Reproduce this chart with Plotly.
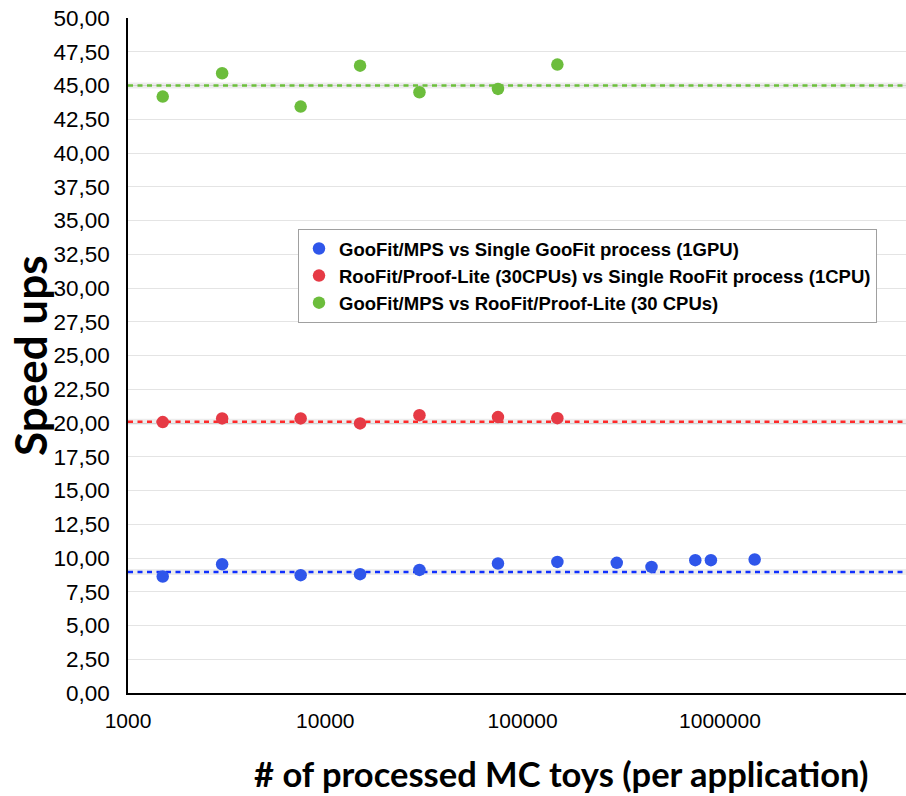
import plotly.graph_objects as go

# ---- data ----
gpu_x = [1500, 3000, 7500, 15000, 30000, 75000, 150000, 300000, 450000, 750000, 900000, 1500000]
gpu_y = [8.63, 9.54, 8.73, 8.80, 9.12, 9.59, 9.71, 9.64, 9.34, 9.84, 9.84, 9.89]

cpu_x = [1500, 3000, 7500, 15000, 30000, 75000, 150000]
cpu_y = [20.07, 20.34, 20.34, 19.97, 20.58, 20.44, 20.36]

gpu_vs_cpu_x = [1500, 3000, 7500, 15000, 30000, 75000, 150000]
gpu_vs_cpu_y = [44.18, 45.91, 43.44, 46.47, 44.50, 44.75, 46.55]

avg_levels = [8.97, 20.10, 45.00]   # dashed reference lines (blue, red, green)
line_x = [1000, 9000000]

series_names = [
    "GooFit/MPS vs Single GooFit process (1GPU)",
    "RooFit/Proof-Lite (30CPUs) vs Single RooFit process (1CPU)",
    "GooFit/MPS vs RooFit/Proof-Lite (30 CPUs)",
]

x_ticks = [1000, 10000, 100000, 1000000]
x_tick_labels = ["1000", "10000", "100000", "1000000"]
y_ticks = [i * 2.5 for i in range(21)]
y_tick_labels = ["0,00", "2,50", "5,00", "7,50", "10,00", "12,50", "15,00", "17,50",
                 "20,00", "22,50", "25,00", "27,50", "30,00", "32,50", "35,00", "37,50",
                 "40,00", "42,50", "45,00", "47,50", "50,00"]

marker_colors = ["#2f56ea", "#e63a45", "#6cbd3c"]
line_colors = ["#1030ff", "#ff2a2a", "#6cc03c"]

# ---- layout geometry ----
W, H = 906, 796
L, R, T, B = 128, 0, 18, 103
pw, ph = W - L - R, H - T - B

fig = go.Figure()

# reference dashed lines with faint shadow
for lvl, col in zip(avg_levels, line_colors):
    fig.add_trace(go.Scatter(x=line_x, y=[lvl, lvl], mode="lines",
                             line=dict(color="rgba(0,0,0,0.07)", width=6),
                             showlegend=False, hoverinfo="skip"))
    fig.add_trace(go.Scatter(x=line_x, y=[lvl, lvl], mode="lines",
                             line=dict(color=col, width=2.5, dash="5px,4.5px"),
                             showlegend=False, hoverinfo="skip"))

for xs, ys, name, col in zip([gpu_x, cpu_x, gpu_vs_cpu_x],
                             [gpu_y, cpu_y, gpu_vs_cpu_y],
                             series_names, marker_colors):
    fig.add_trace(go.Scatter(x=xs, y=ys, mode="markers", name=name,
                             marker=dict(color=col, size=12.5)))

def px_to_paper_x(px):
    return (px - L) / pw

def px_to_paper_y(py):
    return (H - B - py) / ph

fig.update_layout(
    width=W, height=H,
    margin=dict(l=L, r=R, t=T, b=B),
    paper_bgcolor="white", plot_bgcolor="white",
    showlegend=True,
    legend=dict(
        x=px_to_paper_x(298), y=px_to_paper_y(229),
        xanchor="left", yanchor="top",
        bgcolor="white", bordercolor="#a0a0a0", borderwidth=1,
        font=dict(family="Liberation Sans", size=18.5, color="black", weight="bold"),
        tracegroupgap=0,
    ),
    xaxis=dict(
        type="log", range=[3, 6.943],
        tickvals=x_ticks, ticktext=x_tick_labels,
        showgrid=False, zeroline=False,
        showline=True, linecolor="black", linewidth=1.5,
        ticks="outside", ticklen=8, tickcolor="rgba(0,0,0,0)",
        tickfont=dict(family="Liberation Sans", size=21, color="black"),
    ),
    yaxis=dict(
        range=[0, 50],
        tickvals=y_ticks, ticktext=y_tick_labels,
        showgrid=True, gridcolor="#e4e4e4", gridwidth=1,
        zeroline=False,
        showline=True, linecolor="black", linewidth=1.5,
        ticks="outside", ticklen=12, tickcolor="rgba(0,0,0,0)",
        tickfont=dict(family="Liberation Sans", size=22.5, color="black"),
    ),
    annotations=[
        dict(text="<b>Speed ups</b>", xref="paper", yref="paper",
             x=px_to_paper_x(30), y=px_to_paper_y(356),
             xanchor="center", yanchor="middle", textangle=-90, showarrow=False,
             font=dict(family="Lato", size=44, color="black")),
        dict(text="<b># of processed MC toys (per application)</b>", xref="paper", yref="paper",
             x=px_to_paper_x(561), y=px_to_paper_y(773),
             xanchor="center", yanchor="middle", showarrow=False,
             font=dict(family="Lato", size=34.5, color="black")),
    ],
)

fig.write_html("out.html")
